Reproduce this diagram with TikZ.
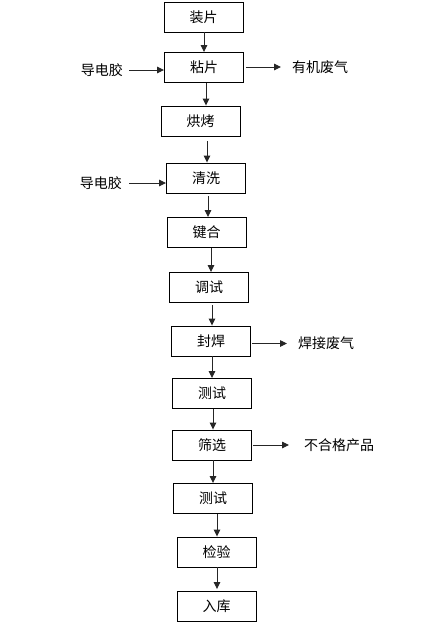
\documentclass[tikz,border=0pt]{standalone}
\usepackage{fontspec}
\setmainfont{Noto Sans CJK SC}
\usetikzlibrary{arrows.meta}
\begin{document}
\begin{tikzpicture}[x=1pt,y=-1pt,
  box/.style={draw=black,line width=0.9pt,minimum width=79pt,minimum height=30pt,inner sep=0pt,font=\fontsize{14}{16}\selectfont},
  lbl/.style={inner sep=0pt,font=\fontsize{14}{16}\selectfont},
  arr/.style={-{Triangle[length=7pt,width=6.5pt]},line width=0.9pt,draw=black!85}]
\useasboundingbox[fill=white] (0,0) rectangle (424,632);
\node[box] (n1) at (203.5,17) {装片};
\node[box] (n2) at (204,67.5) {粘片};
\node[box] (n3) at (200.5,121) {烘烤};
\node[box] (n4) at (206,178) {清洗};
\node[box] (n5) at (206.5,232.5) {键合};
\node[box] (n6) at (209,287.5) {调试};
\node[box] (n7) at (211,341) {封焊};
\node[box] (n8) at (212,393.5) {测试};
\node[box] (n9) at (212,445) {筛选};
\node[box] (n10) at (213,498.5) {测试};
\node[box] (n11) at (216.5,552) {检验};
\node[box] (n12) at (216.5,606.5) {入库};
% side labels
\node[lbl,anchor=east] (g1) at (123,70) {导电胶};
\node[lbl,anchor=east] (g2) at (122,183) {导电胶};
\node[lbl,anchor=west] (w1) at (292,67) {有机废气};
\node[lbl,anchor=west] (w2) at (298,343.5) {焊接废气};
\node[lbl,anchor=west] (w3) at (304,445) {不合格产品};
% vertical arrows
\draw[arr] (n1.south -| 204,0) -- (n2.north -| 204,0);
\draw[arr] (n2.south -| 206,0) -- (n3.north -| 206,0);
\draw[arr] ([yshift=-5pt]n3.south -| 207,0) -- (n4.north -| 207,0);
\draw[arr] ([yshift=-3pt]n4.south -| 208,0) -- (n5.north -| 208,0);
\draw[arr] (n5.south -| 211,0) -- (n6.north -| 211,0);
\draw[arr] ([yshift=-2pt]n6.south -| 212,0) -- (n7.north -| 212,0);
\draw[arr] (n7.south -| 212,0) -- (n8.north -| 212,0);
\draw[arr] (n8.south -| 213,0) -- (n9.north -| 213,0);
\draw[arr] (n9.south -| 213,0) -- (n10.north -| 213,0);
\draw[arr] (n10.south -| 217,0) -- (n11.north -| 217,0);
\draw[arr] (n11.south -| 217,0) -- ([yshift=2pt]n12.north -| 217,0);
% side arrows
\draw[arr] ([xshift=6pt]g1.east) -- (g1.east -| n2.west);
\draw[arr] ([xshift=7pt]g2.east) -- (g2.east -| n4.west);
\draw[arr] ([xshift=2pt]n2.east |- w1.west) -- ([xshift=-11pt]w1.west);
\draw[arr] ([xshift=1pt]n7.east |- w2.west) -- ([xshift=-11pt]w2.west);
\draw[arr] ([xshift=1pt]n9.east |- w3.west) -- ([xshift=-15pt]w3.west);
\end{tikzpicture}
\end{document}
